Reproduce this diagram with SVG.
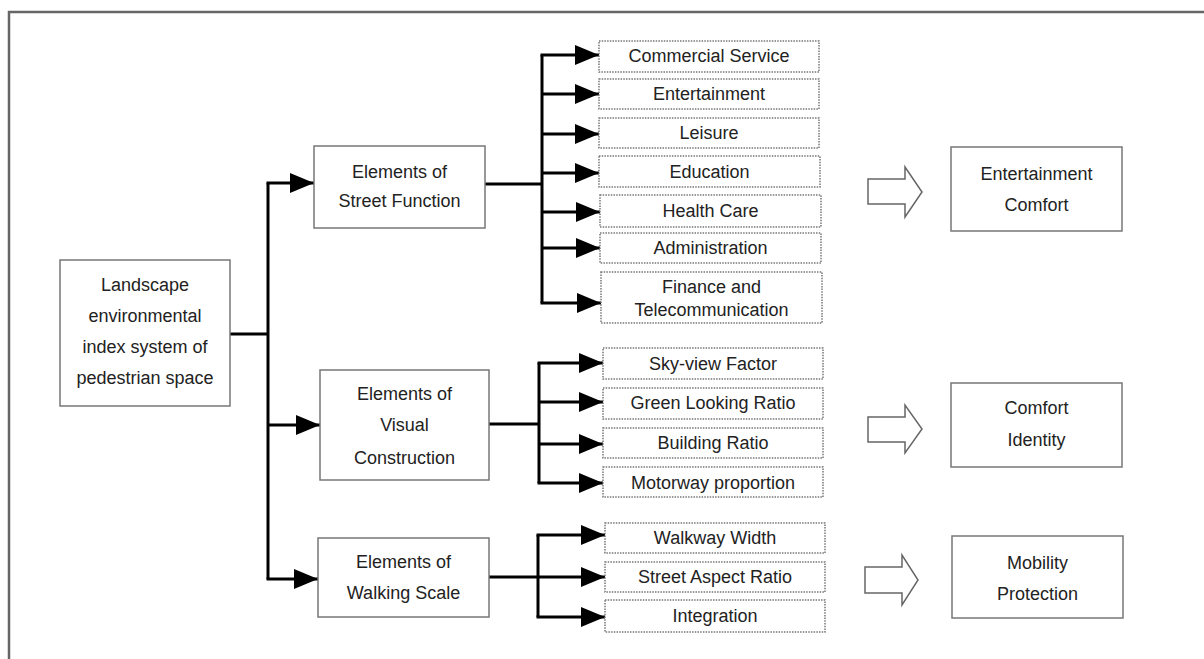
<svg xmlns="http://www.w3.org/2000/svg" width="1204" height="659" viewBox="0 0 1204 659">
<defs>
<marker id="ah" markerUnits="userSpaceOnUse" markerWidth="26" markerHeight="22" refX="24" refY="10" orient="auto" overflow="visible">
<path d="M0,0 L24,10 L0,20 Z" fill="#000"/>
</marker>
<style>
.t{font-family:"Liberation Sans",Arial,sans-serif;font-size:18px;fill:#222;text-anchor:middle}
.box{fill:#fff;stroke:#777;stroke-width:1.5}
.dot{fill:#fff;stroke:#777;stroke-width:1.5;stroke-dasharray:1.5 1.2}
.c{fill:none;stroke:#000;stroke-width:3;stroke-linejoin:miter}
.ca{fill:none;stroke:#000;stroke-width:3;marker-end:url(#ah)}
.big{fill:#fff;stroke:#666;stroke-width:1.5;stroke-linejoin:miter}
</style>
</defs>
<rect x="0" y="0" width="1204" height="659" fill="#fff"/>
<rect x="9" y="12" width="1210" height="670" fill="none" stroke="#666" stroke-width="2.5"/>

<g id="connectors">
<path class="c" d="M230,334 H268"/>
<path class="c" d="M268,183 V579"/>
<path class="ca" d="M266.5,183 H314"/>
<path class="ca" d="M268,425 H320"/>
<path class="ca" d="M266.5,579 H318"/>

<path class="c" d="M485,184 H542"/>
<path class="c" d="M542,55 V303"/>
<path class="ca" d="M540.5,55 H599"/>
<path class="ca" d="M542,94 H599"/>
<path class="ca" d="M542,134 H599"/>
<path class="ca" d="M542,173 H599"/>
<path class="ca" d="M542,212 H600"/>
<path class="ca" d="M542,248 H600"/>
<path class="ca" d="M540.5,303 H601"/>

<path class="c" d="M489,424 H539"/>
<path class="c" d="M539,363 V483"/>
<path class="ca" d="M537.5,363 H603"/>
<path class="ca" d="M539,402 H603"/>
<path class="ca" d="M539,444 H603"/>
<path class="ca" d="M537.5,483 H603"/>

<path class="c" d="M489,577 H538"/>
<path class="c" d="M538,535 V617"/>
<path class="ca" d="M536.5,535 H605"/>
<path class="ca" d="M538,577 H605"/>
<path class="ca" d="M536.5,617 H605"/>

<polygon class="big" points="868,179 905,179 905,167 922,192 905,217 905,204 868,204"/>
<polygon class="big" points="868,417 905,417 905,405 922,429 905,453 905,442 868,442"/>
<polygon class="big" points="865,567 902,567 902,555 918,580 902,605 902,593 865,593"/>
</g>

<g id="root">
<rect class="box" x="60" y="260" width="170" height="146"/>
<text class="t" x="145" y="291">Landscape</text>
<text class="t" x="145" y="322">environmental</text>
<text class="t" x="145" y="353">index system of</text>
<text class="t" x="145" y="384">pedestrian space</text>
</g>

<g id="street-function">
<rect class="box" x="314" y="146" width="171" height="82"/>
<text class="t" x="399.5" y="178">Elements of</text>
<text class="t" x="399.5" y="207">Street Function</text>
</g>
<g id="visual-construction">
<rect class="box" x="320" y="370" width="169" height="110"/>
<text class="t" x="404.5" y="400">Elements of</text>
<text class="t" x="404.5" y="431">Visual</text>
<text class="t" x="404.5" y="464">Construction</text>
</g>
<g id="walking-scale">
<rect class="box" x="318" y="538" width="171" height="79"/>
<text class="t" x="403.5" y="568">Elements of</text>
<text class="t" x="403.5" y="599">Walking Scale</text>
</g>

<g id="commercial-service"><rect class="dot" x="599" y="41" width="220" height="31"/><text class="t" x="709" y="62">Commercial Service</text></g>
<g id="entertainment"><rect class="dot" x="599" y="79" width="220" height="30"/><text class="t" x="709" y="100">Entertainment</text></g>
<g id="leisure"><rect class="dot" x="599" y="118" width="220" height="30"/><text class="t" x="709" y="139">Leisure</text></g>
<g id="education"><rect class="dot" x="599" y="156" width="221" height="31"/><text class="t" x="709.5" y="178">Education</text></g>
<g id="health-care"><rect class="dot" x="600" y="195" width="221" height="32"/><text class="t" x="710.5" y="217">Health Care</text></g>
<g id="administration"><rect class="dot" x="600" y="233" width="221" height="30"/><text class="t" x="710.5" y="254">Administration</text></g>
<g id="finance"><rect class="dot" x="601" y="272" width="221" height="51"/><text class="t" x="711.5" y="293">Finance and</text><text class="t" x="711.5" y="316">Telecommunication</text></g>

<g id="sky-view"><rect class="dot" x="603" y="348" width="220" height="31"/><text class="t" x="713" y="370">Sky-view Factor</text></g>
<g id="green-looking"><rect class="dot" x="603" y="388" width="220" height="31"/><text class="t" x="713" y="409">Green Looking Ratio</text></g>
<g id="building-ratio"><rect class="dot" x="603" y="428" width="220" height="30"/><text class="t" x="713" y="449">Building Ratio</text></g>
<g id="motorway"><rect class="dot" x="603" y="467" width="220" height="30"/><text class="t" x="713" y="489">Motorway proportion</text></g>

<g id="walkway-width"><rect class="dot" x="605" y="523" width="220" height="30"/><text class="t" x="715" y="544">Walkway Width</text></g>
<g id="street-aspect"><rect class="dot" x="605" y="562" width="220" height="30"/><text class="t" x="715" y="583">Street Aspect Ratio</text></g>
<g id="integration"><rect class="dot" x="605" y="600" width="220" height="32"/><text class="t" x="715" y="622">Integration</text></g>

<g id="entertainment-comfort">
<rect class="box" x="951" y="147" width="171" height="84"/>
<text class="t" x="1036.5" y="180">Entertainment</text>
<text class="t" x="1036.5" y="211">Comfort</text>
</g>
<g id="comfort-identity">
<rect class="box" x="951" y="383" width="171" height="84"/>
<text class="t" x="1036.5" y="414">Comfort</text>
<text class="t" x="1036.5" y="446">Identity</text>
</g>
<g id="mobility-protection">
<rect class="box" x="952" y="536" width="171" height="82"/>
<text class="t" x="1037.5" y="569">Mobility</text>
<text class="t" x="1037.5" y="600">Protection</text>
</g>
</svg>
